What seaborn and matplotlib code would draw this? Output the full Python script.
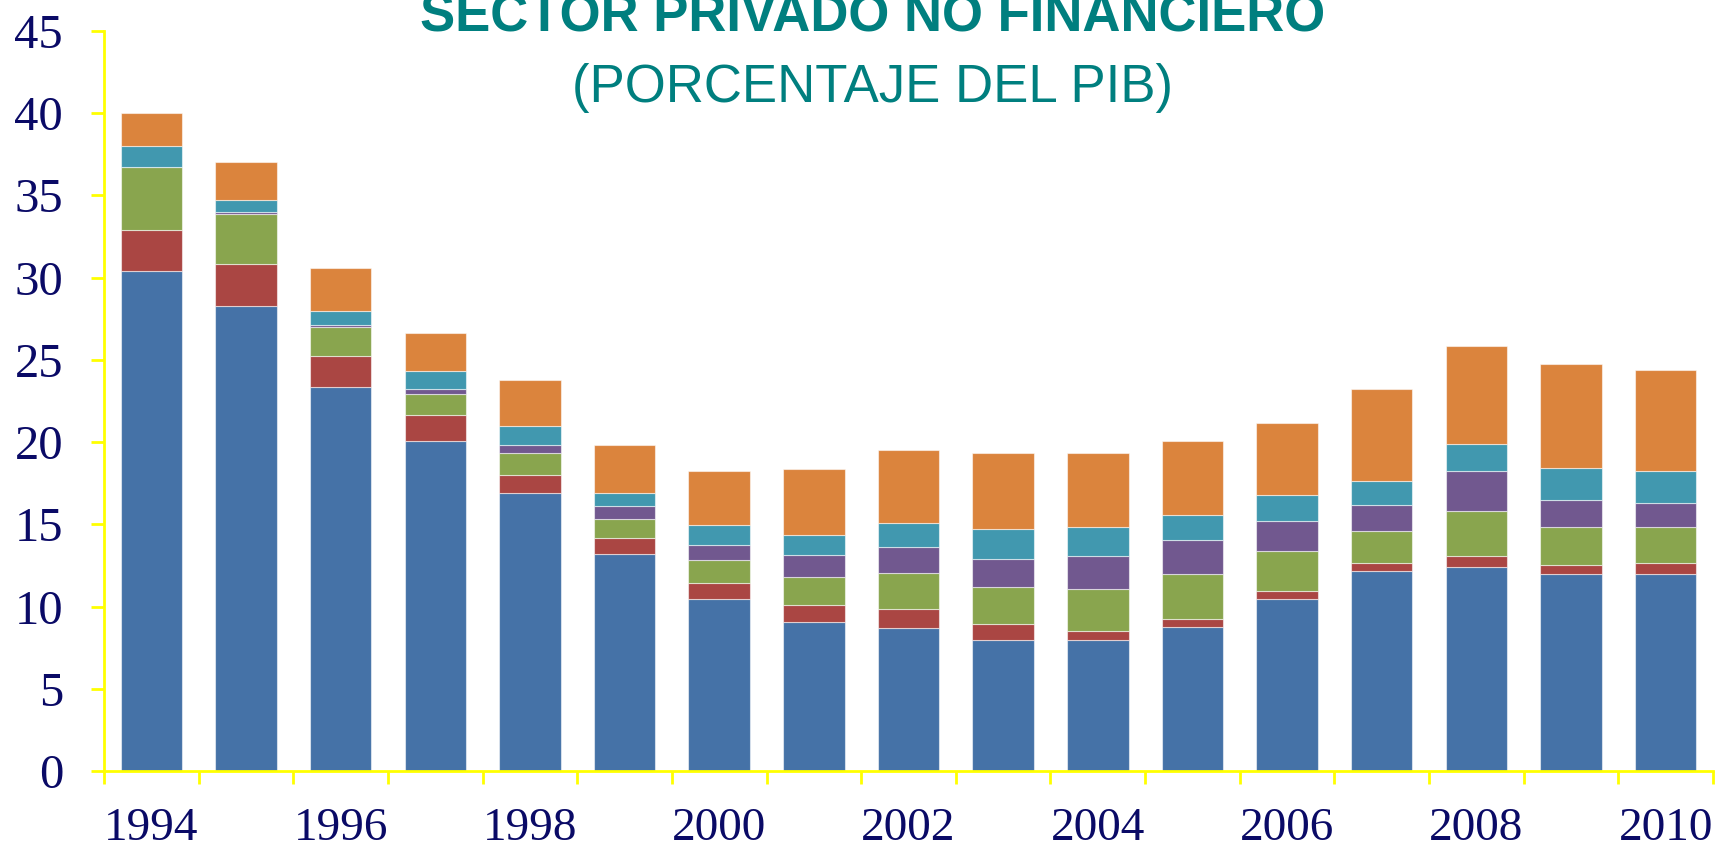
import matplotlib
matplotlib.use("Agg")
import matplotlib.pyplot as plt
import seaborn as sns
import numpy as np
import pandas as pd
from matplotlib.ticker import FixedLocator

years = [str(y) for y in range(1994, 2011)]
blue   = [30.4, 28.3, 23.35, 20.05, 16.9, 13.2, 10.47, 9.05, 8.67, 7.96, 7.96, 8.77, 10.47, 12.18, 12.42, 11.96, 11.96]
red    = [2.5, 2.55, 1.9, 1.6, 1.1, 0.95, 0.98, 1.07, 1.2, 0.96, 0.57, 0.49, 0.49, 0.46, 0.63, 0.58, 0.7]
green  = [3.8, 3.0, 1.75, 1.25, 1.35, 1.2, 1.38, 1.7, 2.2, 2.28, 2.53, 2.69, 2.41, 1.97, 2.76, 2.29, 2.17]
purple = [0.0, 0.15, 0.1, 0.35, 0.45, 0.75, 0.93, 1.34, 1.56, 1.69, 2.0, 2.07, 1.85, 1.56, 2.45, 1.67, 1.49]
teal   = [1.3, 0.75, 0.85, 1.1, 1.2, 0.8, 1.19, 1.2, 1.46, 1.84, 1.78, 1.54, 1.56, 1.48, 1.65, 1.94, 1.92]
orange = [2.0, 2.3, 2.65, 2.3, 2.8, 2.95, 3.29, 4.0, 4.45, 4.6, 4.5, 4.48, 4.36, 5.55, 5.95, 6.29, 6.16]

series = [blue, red, green, purple, teal, orange]
colors = ["#4572A7", "#AA4643", "#89A54E", "#71588F", "#4198AF", "#DB843D"]

navy = "#0A0A66"
tealtxt = "#007F7F"
yellow = "#FFFF00"

sns.set_style("white")
plt.rcParams["font.family"] = ["Liberation Serif", "DejaVu Serif"]

fig = plt.figure(figsize=(17.2, 8.5), dpi=100)
ax = fig.add_axes([104 / 1720, 1 - 771 / 850, (1713 - 104) / 1720, 740 / 850])

bottom = np.zeros(len(years))
for vals, col in zip(series, colors):
    df = pd.DataFrame({"year": years, "value": vals})
    sns.barplot(data=df, x="year", y="value", order=years, color=col,
                saturation=1, width=0.65, bottom=bottom.copy(),
                edgecolor=(1, 1, 1, 0.55), linewidth=0.8, ax=ax,
                errorbar=None)
    bottom += np.array(vals)

ax.set_xlim(-0.5, len(years) - 0.5)
ax.set_ylim(0, 45)
ax.set_xlabel("")
ax.set_ylabel("")

for s in ["top", "right"]:
    ax.spines[s].set_visible(False)
for s in ["left", "bottom"]:
    ax.spines[s].set_visible(True)
    ax.spines[s].set_color(yellow)
    ax.spines[s].set_linewidth(2)

ax.set_yticks(range(0, 46, 5))
ax.set_yticklabels([str(v) for v in range(0, 46, 5)])
ax.tick_params(axis="y", which="major", length=9.5, width=2, color=yellow,
               direction="out", pad=20, labelsize=35, labelcolor=navy, left=True)

major_pos = list(range(0, len(years), 2))
ax.set_xticks(major_pos)
ax.set_xticklabels([years[i] for i in major_pos])
ax.xaxis.set_minor_locator(FixedLocator(np.arange(-0.5, len(years), 1.0)))
ax.tick_params(axis="x", which="major", length=0, pad=26, labelsize=34,
               labelcolor=navy, bottom=True)
ax.tick_params(axis="x", which="minor", length=9.5, width=2, color=yellow,
               direction="out", bottom=True)

fig.text(873 / 1720, 1 - 31 / 850, "SECTOR PRIVADO NO FINANCIERO",
         ha="center", va="baseline", fontsize=38, fontweight="bold",
         color=tealtxt, family=["Liberation Sans", "DejaVu Sans"])
fig.text(873 / 1720, 1 - 102 / 850, "(PORCENTAJE DEL PIB)",
         ha="center", va="baseline", fontsize=38,
         color=tealtxt, family=["Liberation Sans", "DejaVu Sans"])

fig.savefig("out.png", dpi=100, facecolor="white")
